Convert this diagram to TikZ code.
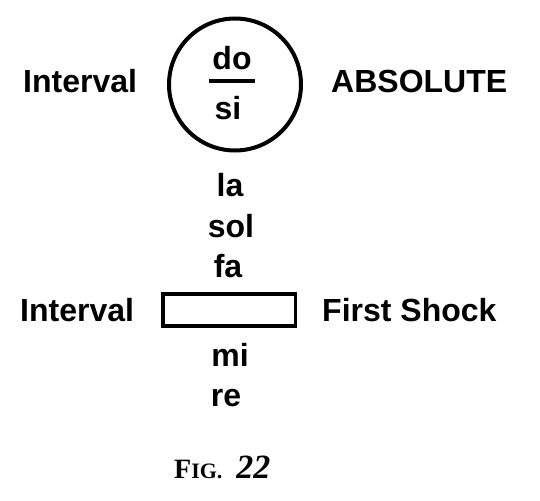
\documentclass[tikz,border=0pt]{standalone}
\usepackage{fontspec}
\newfontfamily\notefont{Liberation Sans}
\newfontfamily\capfont{Liberation Serif}
\usetikzlibrary{calc}

\begin{document}
\begin{tikzpicture}[x=1pt, y=-1pt,
  note/.style={font=\notefont\bfseries\fontsize{32}{36}\selectfont, inner sep=0pt, anchor=base},
  side/.style={note, anchor=base west}]

\useasboundingbox (0,0) rectangle (540,500);

\node[draw, circle, line width=4pt, minimum size=132pt, inner sep=0pt] (ring) at (235,84.5) {};
\node[draw, rectangle, line width=3.5pt, minimum width=132.5pt, minimum height=32pt, inner sep=0pt] (gap) at (229.2,310) {};

\node[note] (do) at (232,70) {do};
\coordinate (barleft) at (208.5,81.3);
\coordinate (barright) at (255,81.3);
\draw[line width=4pt] (barleft) -- (barright);
\node[note] (si) at (228,119) {si};

\node[note] (la) at (230,196) {la};
\node[note] (sol) at (231,237) {sol};
\node[note] (fa) at (228,277) {fa};
\node[note] (mi) at (230,366) {mi};
\node[note] (re) at (226,406) {re};

\node[side] (upint) at (23,93) {Interval};
\node[side] (absolute) at (331,93) {ABSOLUTE};
\node[side] (lowint) at (20,321) {Interval};
\node[side] (shock) at (322,321) {First Shock};

\node[anchor=base west, inner sep=0pt] (caption) at (174,478)
  {\capfont\bfseries\fontsize{28}{30}\selectfont F\fontsize{22}{24}\selectfont IG.\hspace{14pt}%
   \fontsize{34}{36}\selectfont\itshape 22};

\end{tikzpicture}
\end{document}
